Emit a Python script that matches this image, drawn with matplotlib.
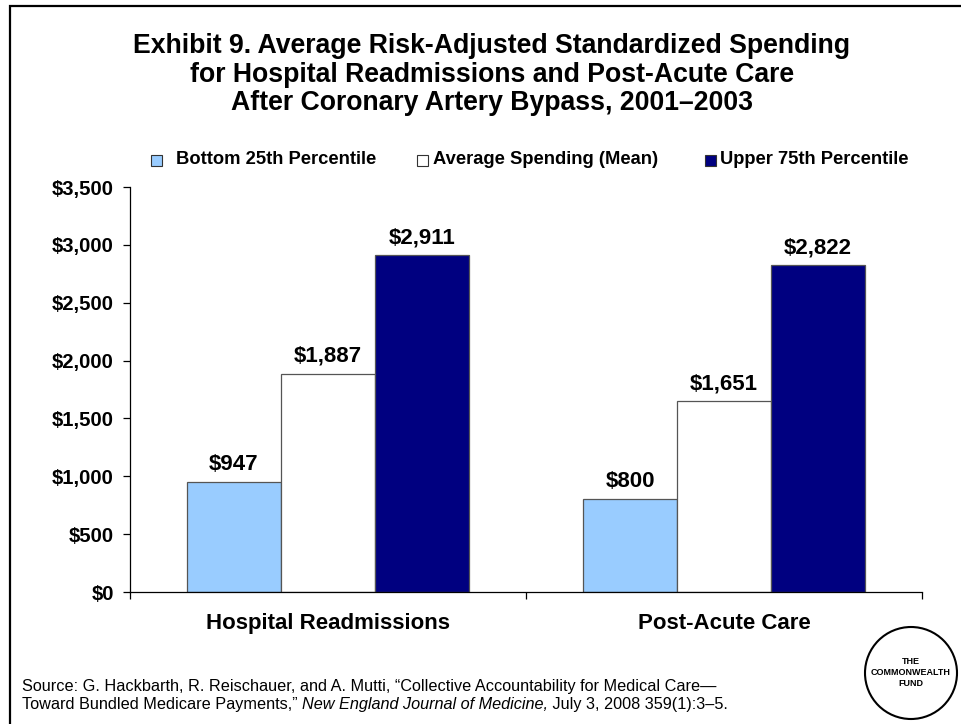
import matplotlib
matplotlib.use("Agg")
import matplotlib.pyplot as plt
import numpy as np
from matplotlib.patches import Rectangle, Ellipse
from matplotlib.lines import Line2D

# ---- data ----
categories = ["Hospital Readmissions", "Post-Acute Care"]
series_names = ["Bottom 25th Percentile", "Average Spending (Mean)", "Upper 75th Percentile"]
bottom_25th = [947, 800]
mean_spending = [1887, 1651]
upper_75th = [2911, 2822]
y_ticks = [0, 500, 1000, 1500, 2000, 2500, 3000, 3500]
y_tick_labels = ["$0", "$500", "$1,000", "$1,500", "$2,000", "$2,500", "$3,000", "$3,500"]

title_lines = [
    "Exhibit 9. Average Risk-Adjusted Standardized Spending",
    "for Hospital Readmissions and Post-Acute Care",
    "After Coronary Artery Bypass, 2001\u20132003",
]

series_colors = ["#99CCFF", "#FFFFFF", "#000080"]

FONT = ["Liberation Sans", "DejaVu Sans"]

W, H = 961, 724
fig = plt.figure(figsize=(W / 100, H / 100), dpi=100)
fig.patch.set_facecolor("white")


def fx(px):
    return px / W


def fy(py):
    return 1 - py / H


# frame around the slide
fig.add_artist(Line2D([fx(10), fx(10), 1.0], [0.0, fy(6), fy(6)],
                      transform=fig.transFigure, color="black", lw=1.6,
                      solid_joinstyle="miter"))

# title
for i, line in enumerate(title_lines):
    fig.text(fx(492), fy(46 + i * 28.7), line, ha="center", va="center",
             fontsize=19.2, fontweight="bold", family=FONT)

# axes
ax = fig.add_axes([fx(130), fy(592), 792 / W, 405 / H])
x = np.arange(len(categories))
bw = 0.2374
series = [bottom_25th, mean_spending, upper_75th]
for i, (vals, col) in enumerate(zip(series, series_colors)):
    bars = ax.bar(x + (i - 1) * bw, vals, width=bw, color=col,
                  edgecolor="#555555", linewidth=0.9, zorder=2)
    for b, v in zip(bars, vals):
        ax.annotate(f"${v:,}", (b.get_x() + b.get_width() / 2, v),
                    xytext=(0, 5), textcoords="offset points",
                    ha="center", va="bottom", fontsize=16,
                    fontweight="bold", family=FONT)

ax.set_xlim(-0.5, 1.5)
ax.set_ylim(0, 3500)
ax.set_yticks(y_ticks)
ax.set_yticklabels(y_tick_labels, fontsize=14.6, fontweight="bold", family=FONT)
ax.tick_params(axis="y", length=5, width=0.9, pad=6.5, direction="out")
ax.set_xticks([-0.5, 0.5, 1.5])
ax.set_xticklabels([])
ax.tick_params(axis="x", which="major", length=5, width=0.9, direction="out")
ax.set_xticks(x, minor=True)
ax.set_xticklabels(categories, minor=True, fontsize=16, fontweight="bold", family=FONT)
ax.tick_params(axis="x", which="minor", length=0, pad=15)
for s in ("top", "right"):
    ax.spines[s].set_visible(False)
for s in ("left", "bottom"):
    ax.spines[s].set_linewidth(0.9)

# legend
legend_items = [(151, 176), (417, 433), (705, 720)]
for (sx, tx), name, col in zip(legend_items, series_names, series_colors):
    fig.add_artist(Rectangle((fx(sx), fy(165.5)), 11 / W, 11 / H,
                             transform=fig.transFigure, facecolor=col,
                             edgecolor="#333333", lw=0.8))
    fig.text(fx(tx), fy(160), name, ha="left", va="center", fontsize=13.2,
             fontweight="bold", family=FONT)

# source note
SRC_SIZE = 11.7
fig.text(fx(22), fy(686), "Source: G. Hackbarth, R. Reischauer, and A. Mutti, "
         "\u201cCollective Accountability for Medical Care\u2014",
         ha="left", va="center", fontsize=SRC_SIZE, family=FONT)
fig.canvas.draw()
renderer = fig.canvas.get_renderer()
parts = [("Toward Bundled Medicare Payments,\u201d ", "normal"),
         ("New England Journal of Medicine,", "italic"),
         (" July 3, 2008 359(1):3\u20135.", "normal")]
cur = fx(22)
for txt, style in parts:
    t = fig.text(cur, fy(704), txt, ha="left", va="center", fontsize=SRC_SIZE,
                 style=style, family=FONT)
    bb = t.get_window_extent(renderer)
    cur += bb.width / W

# logo
fig.add_artist(Ellipse((fx(911), fy(673)), 92 / W, 92 / H,
                       transform=fig.transFigure, facecolor="white",
                       edgecolor="black", lw=1.5))
for j, word in enumerate(["THE", "COMMONWEALTH", "FUND"]):
    fig.text(fx(911), fy(661 + j * 11.5), word, ha="center", va="center",
             fontsize=6.5, fontweight="bold", family=FONT)

fig.savefig("out.png", dpi=100)
